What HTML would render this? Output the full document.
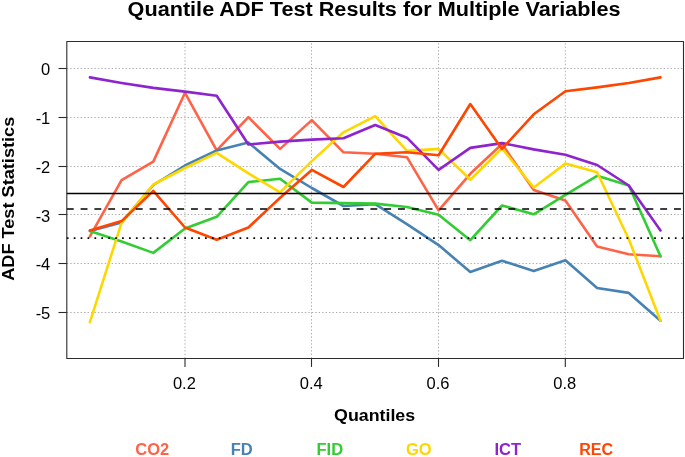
<!DOCTYPE html>
<html><head><meta charset="utf-8"><title>Quantile ADF Test Results</title>
<style>html,body{margin:0;padding:0;background:#fff}svg{display:block}text{font-family:"Liberation Sans",Arial,sans-serif}</style></head><body>
<svg width="685" height="457" viewBox="0 0 685 457">
<rect width="685" height="457" fill="#fff"/>
<g stroke="#b0b0b0" stroke-width="1" stroke-dasharray="1.45 2" fill="none">
<line x1="185.0" y1="358.5" x2="185.0" y2="41.5"/>
<line x1="311.5" y1="358.5" x2="311.5" y2="41.5"/>
<line x1="438.5" y1="358.5" x2="438.5" y2="41.5"/>
<line x1="565.3" y1="358.5" x2="565.3" y2="41.5"/>
<line x1="66.8" y1="68.5" x2="683.5" y2="68.5"/>
<line x1="66.8" y1="117.5" x2="683.5" y2="117.5"/>
<line x1="66.8" y1="166.5" x2="683.5" y2="166.5"/>
<line x1="66.8" y1="214.5" x2="683.5" y2="214.5"/>
<line x1="66.8" y1="263.5" x2="683.5" y2="263.5"/>
<line x1="66.8" y1="312.5" x2="683.5" y2="312.5"/>
</g>
<g fill="none" stroke-width="2.6" stroke-linejoin="round" stroke-linecap="round">
<polyline stroke="#FF6347" points="89.9,236.3 121.6,180.2 153.3,161.6 185.0,92.8 216.7,150.4 248.4,117.2 280.1,148.9 311.8,120.1 343.5,152.3 375.2,153.8 406.9,157.2 438.6,210.4 470.3,173.8 502.0,144.0 533.7,189.9 565.4,200.6 597.1,246.5 628.8,254.3 660.5,256.3"/>
<polyline stroke="#4682B4" points="89.9,230.9 121.6,222.6 153.3,185.0 185.0,165.5 216.7,150.4 248.4,142.6 280.1,168.9 311.8,188.0 343.5,206.0 375.2,204.1 406.9,224.1 438.6,245.1 470.3,271.9 502.0,260.7 533.7,270.9 565.4,260.2 597.1,288.0 628.8,292.9 660.5,320.7"/>
<polyline stroke="#32CD32" points="89.9,230.9 121.6,241.6 153.3,252.9 185.0,228.5 216.7,216.8 248.4,182.1 280.1,178.7 311.8,202.6 343.5,203.1 375.2,203.6 406.9,207.0 438.6,214.8 470.3,240.2 502.0,205.5 533.7,214.3 565.4,194.8 597.1,175.8 628.8,185.5 660.5,256.3"/>
<polyline stroke="#FFD700" points="89.9,322.2 121.6,222.6 153.3,184.5 185.0,168.0 216.7,152.8 248.4,173.3 280.1,192.4 311.8,161.1 343.5,132.3 375.2,116.2 406.9,150.9 438.6,148.9 470.3,179.7 502.0,148.4 533.7,187.5 565.4,163.6 597.1,172.3 628.8,239.2 660.5,320.7"/>
<polyline stroke="#8E24CC" points="89.9,77.4 121.6,83.0 153.3,87.9 185.0,91.6 216.7,95.7 248.4,144.5 280.1,141.6 311.8,139.6 343.5,138.2 375.2,125.0 406.9,137.7 438.6,169.9 470.3,147.9 502.0,143.1 533.7,149.4 565.4,154.8 597.1,165.0 628.8,185.5 660.5,230.4"/>
<polyline stroke="#FF4500" points="89.9,230.4 121.6,221.1 153.3,190.9 185.0,227.5 216.7,239.7 248.4,227.5 280.1,197.7 311.8,169.9 343.5,187.0 375.2,153.8 406.9,152.3 438.6,155.3 470.3,104.0 502.0,148.9 533.7,114.3 565.4,91.3 597.1,87.4 628.8,83.0 660.5,77.4"/>
</g>
<g stroke="#000" stroke-width="1.725" fill="none">
<line x1="66.8" y1="193.5" x2="683.5" y2="193.5"/>
<line x1="66.8" y1="209.0" x2="683.5" y2="209.0" stroke-dasharray="6.90 6.90"/>
<line x1="66.8" y1="238.2" x2="683.5" y2="238.2" stroke-dasharray="1.73 5.18"/>
</g>
<g stroke="#2b2b2b" stroke-width="1.1" fill="none" stroke-linejoin="round">
<rect x="66.8" y="41.5" width="616.7" height="317.0"/>
<line x1="185.0" y1="358.5" x2="185.0" y2="366.9"/>
<line x1="311.5" y1="358.5" x2="311.5" y2="366.9"/>
<line x1="438.5" y1="358.5" x2="438.5" y2="366.9"/>
<line x1="565.3" y1="358.5" x2="565.3" y2="366.9"/>
<line x1="66.8" y1="68.5" x2="58.5" y2="68.5"/>
<line x1="66.8" y1="117.5" x2="58.5" y2="117.5"/>
<line x1="66.8" y1="166.5" x2="58.5" y2="166.5"/>
<line x1="66.8" y1="214.5" x2="58.5" y2="214.5"/>
<line x1="66.8" y1="263.5" x2="58.5" y2="263.5"/>
<line x1="66.8" y1="312.5" x2="58.5" y2="312.5"/>
</g>
<g font-size="16.5" fill="#000">
<text x="184.4" y="389" text-anchor="middle">0.2</text>
<text x="311.2" y="389" text-anchor="middle">0.4</text>
<text x="438.0" y="389" text-anchor="middle">0.6</text>
<text x="564.8" y="389" text-anchor="middle">0.8</text>
<text x="50.3" y="75.1" text-anchor="end">0</text>
<text x="50.3" y="123.9" text-anchor="end">-1</text>
<text x="50.3" y="172.7" text-anchor="end">-2</text>
<text x="50.3" y="221.5" text-anchor="end">-3</text>
<text x="50.3" y="270.3" text-anchor="end">-4</text>
<text x="50.3" y="319.1" text-anchor="end">-5</text>
</g>
<g font-weight="bold" fill="#000">
<text transform="translate(374.05,15.8) scale(1.031,1)" font-size="21" text-anchor="middle">Quantile ADF Test Results for Multiple Variables</text>
<text transform="translate(374.6,421) scale(1.048,1)" font-size="17" text-anchor="middle">Quantiles</text>
<text transform="translate(14.4,198.8) rotate(-90) scale(1.069,1)" font-size="17" text-anchor="middle">ADF Test Statistics</text>
</g>
<g font-weight="bold" font-size="15.6">
<text transform="translate(135.2,455.0) scale(1.06,1)" fill="#FF6347">CO2</text>
<text transform="translate(230.7,455.0) scale(1.06,1)" fill="#4682B4">FD</text>
<text transform="translate(316.5,455.0) scale(1.06,1)" fill="#32CD32">FID</text>
<text transform="translate(406.0,455.0) scale(1.06,1)" fill="#FFD700">GO</text>
<text transform="translate(494.4,455.0) scale(1.06,1)" fill="#8E24CC">ICT</text>
<text transform="translate(579.2,455.0) scale(1.03,1)" fill="#FF4500">REC</text>
</g>
</svg></body></html>
